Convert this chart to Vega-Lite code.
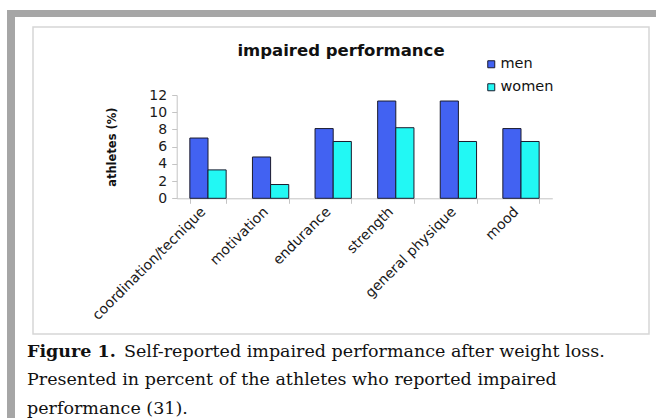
{
  "$schema": "https://vega.github.io/schema/vega-lite/v6.json",
  "padding": {"left": 7, "top": 10, "right": 0, "bottom": 0},
  "background": "white",
  "config": {"view": {"stroke": null}},
  "spacing": 0,
  "resolve": {"scale": {"color": "independent"}, "legend": {"color": "independent"}},
  "vconcat": [
    {
      "width": 649, "height": 7,
      "view": {"fill": "#a6a6a6", "stroke": null},
      "data": {"values": [{}]},
      "mark": {"type": "point", "size": 0, "opacity": 0},
      "encoding": {}
    },
    {
      "spacing": 12,
      "resolve": {"scale": {"color": "independent"}, "legend": {"color": "independent"}},
      "hconcat": [
        {
          "width": 8, "height": 401,
          "view": {"fill": "#a6a6a6", "stroke": null},
          "data": {"values": [{}]},
          "mark": {"type": "point", "size": 0, "opacity": 0},
          "encoding": {}
        },
        {
          "spacing": 8,
          "resolve": {"scale": {"color": "independent"}, "legend": {"color": "independent"}},
          "vconcat": [
            {
              "width": 616, "height": 1,
              "data": {"values": [{}]},
              "mark": {"type": "point", "size": 0, "opacity": 0},
              "encoding": {}
            },
            {
              "width": 616, "height": 307,
              "view": {"stroke": "#d6d6d6", "strokeWidth": 1.5, "fill": "white"},
              "title": {"text": "impaired performance", "font": "DejaVu Sans", "fontSize": 16.5, "fontWeight": "bold", "color": "#111111", "anchor": "middle", "offset": -48, "baseline": "bottom"},
              "data": {"values": [
                {"category": "coordination/tecnique", "sex": "men", "value": 7.0},
                {"category": "coordination/tecnique", "sex": "women", "value": 3.3},
                {"category": "motivation", "sex": "men", "value": 4.8},
                {"category": "motivation", "sex": "women", "value": 1.6},
                {"category": "endurance", "sex": "men", "value": 8.1},
                {"category": "endurance", "sex": "women", "value": 6.6},
                {"category": "strength", "sex": "men", "value": 11.3},
                {"category": "strength", "sex": "women", "value": 8.2},
                {"category": "general physique", "sex": "men", "value": 11.3},
                {"category": "general physique", "sex": "women", "value": 6.6},
                {"category": "mood", "sex": "men", "value": 8.1},
                {"category": "mood", "sex": "women", "value": 6.6}
              ]},
              "mark": {"type": "bar", "stroke": "#1b1b2e", "strokeWidth": 1},
              "encoding": {
                "x": {
                  "field": "category", "type": "nominal", "sort": null,
                  "scale": {"range": [143.7, 519.3], "paddingInner": 0.42, "paddingOuter": 0.21},
                  "axis": {
                    "title": null, "offset": -135.7,
                    "domainColor": "#c4c4c4", "tickColor": "#c4c4c4", "tickSize": 5, "tickBand": "extent",
                    "labelAngle": -45, "labelAlign": "right", "labelBaseline": "middle", "labelPadding": 6, "labelOffset": -5,
                    "labelFont": "DejaVu Sans", "labelFontSize": 14, "labelColor": "#1a1a1a",
                    "labelOverlap": false, "labelBound": false, "labelLimit": 0
                  }
                },
                "xOffset": {"field": "sex", "type": "nominal", "scale": {"paddingInner": 0, "paddingOuter": 0}},
                "y": {
                  "field": "value", "type": "quantitative",
                  "scale": {"domain": [0, 12], "range": [171.3, 68], "nice": false, "zero": true},
                  "axis": {
                    "title": "athletes (%)", "offset": -143.7, "values": [0, 2, 4, 6, 8, 10, 12],
                    "grid": false, "domainColor": "#c4c4c4", "tickColor": "#c4c4c4", "tickSize": 5,
                    "labelPadding": 5, "labelFont": "DejaVu Sans", "labelFontSize": 14, "labelColor": "#1a1a1a",
                    "titleFont": "DejaVu Sans", "titleFontSize": 11.5, "titleFontWeight": "bold", "titleColor": "#111111",
                    "titlePadding": 31
                  }
                },
                "color": {
                  "field": "sex", "type": "nominal",
                  "scale": {"domain": ["men", "women"], "range": ["#4262f2", "#22f8f4"]},
                  "legend": {
                    "title": null, "orient": "none", "legendX": 451, "legendY": 30, "direction": "vertical",
                    "symbolType": "square", "symbolSize": 49, "symbolStrokeColor": "#1b1b2e", "symbolStrokeWidth": 1, "symbolOpacity": 1,
                    "labelFont": "DejaVu Sans", "labelFontSize": 14.5, "labelColor": "#111111", "labelOffset": 2,
                    "rowPadding": 8, "padding": 0
                  }
                }
              }
            },
            {
              "width": 616, "height": 56.7,
              "data": {"values": [
                {"line": 1, "part": "label", "text": "Figure 1."},
                {"line": 1, "part": "body", "text": "Self-reported impaired performance after weight loss."},
                {"line": 2, "part": "body", "text": "Presented in percent of the athletes who reported impaired"},
                {"line": 3, "part": "body", "text": "performance (31)."}
              ]},
              "encoding": {
                "x": {"datum": 0, "type": "quantitative", "scale": {"domain": [0, 1]}, "axis": null},
                "y": {"field": "line", "type": "ordinal", "scale": {"type": "point", "padding": 0}, "axis": null},
                "text": {"field": "text"}
              },
              "layer": [
                {
                  "transform": [{"filter": "datum.part === 'label'"}],
                  "mark": {"type": "text", "align": "left", "baseline": "alphabetic", "font": "DejaVu Serif", "fontSize": 17.5, "fontWeight": "bold", "color": "#111111", "dx": -6}
                },
                {
                  "transform": [{"filter": "datum.part === 'body' && datum.line === 1"}],
                  "mark": {"type": "text", "align": "left", "baseline": "alphabetic", "font": "DejaVu Serif", "fontSize": 17.5, "color": "#111111", "dx": 91}
                },
                {
                  "transform": [{"filter": "datum.part === 'body' && datum.line > 1"}],
                  "mark": {"type": "text", "align": "left", "baseline": "alphabetic", "font": "DejaVu Serif", "fontSize": 17.5, "color": "#111111", "dx": -6}
                }
              ]
            }
          ]
        }
      ]
    }
  ]
}
